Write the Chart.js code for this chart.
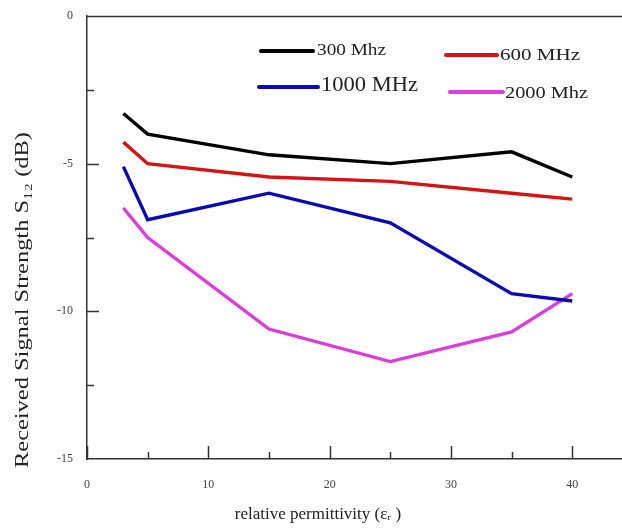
<!DOCTYPE html>
<html>
<head>
<meta charset="utf-8">
<script src="https://cdn.jsdelivr.net/npm/chart.js@4.4.0/dist/chart.umd.min.js"></script>
<style>
  html, body { margin: 0; padding: 0; background: #fff; }
  #wrap { width: 622px; height: 530px; position: relative; }
</style>
</head>
<body>
<div id="wrap"><canvas id="chart"></canvas></div>
<script>
// datos
const permitividad = [3, 5, 15, 25, 35, 40];
const s300 = [-3.3, -4.0, -4.7, -5.0, -4.6, -5.45];
const s600 = [-4.27, -5.0, -5.45, -5.6, -6.0, -6.2];
const s1000 = [-5.1, -6.9, -6.0, -7.0, -9.4, -9.65];
const s2000 = [-6.5, -7.5, -10.6, -11.7, -10.7, -9.4];

const xTicks = [0, 10, 20, 30, 40];
const xMinor = [5, 15, 25, 35];
const yTicks = [-15, -10, -5, 0];
const yMinor = [-12.5, -7.5, -2.5];

const serif = '"Liberation Serif", "Times New Roman", serif';

function serie(label, data, color) {
    return {
        label: label,
        data: permitividad.map((x, i) => ({ x: x, y: data[i] })),
        borderColor: color,
        backgroundColor: color,
        borderWidth: 3.4,
        pointRadius: 0,
        tension: 0,
        fill: false
    };
}

// posiciones y tamanos de la leyenda (dentro del area del grafico)
// w = ancho que ocupa el texto en la imagen original (esta un poco estirado)
const legendPos = [
    { x1: 261, x2: 313, y: 51, tx: 317, ty: 51, size: 16, w: 69 },
    { x1: 446, x2: 497, y: 55, tx: 500, ty: 56, size: 16, w: 80 },
    { x1: 259, x2: 318, y: 87, tx: 321, ty: 86, size: 20, w: 97 },
    { x1: 450, x2: 503, y: 92, tx: 505, ty: 94, size: 17, w: 83 }
];

function stretchedText(ctx, text, x, y, w) {
    const real = ctx.measureText(text).width;
    ctx.save();
    ctx.translate(x, y);
    ctx.scale(w / real, 1);
    ctx.fillText(text, 0, 0);
    ctx.restore();
}

const extras = {
    id: 'extras',
    afterDraw(chart) {
        const ctx = chart.ctx;
        const area = chart.chartArea;
        const xs = chart.scales.x;
        const ys = chart.scales.y;
        ctx.save();
        ctx.strokeStyle = '#333';
        ctx.lineWidth = 1.5;
        // linea superior
        ctx.beginPath();
        ctx.moveTo(area.left, area.top + 0.5);
        ctx.lineTo(area.right, area.top + 0.5);
        ctx.stroke();
        // marcas hacia adentro
        const tickX = (v, len) => {
            const p = Math.round(xs.getPixelForValue(v)) + 0.5;
            ctx.beginPath();
            ctx.moveTo(p, area.bottom);
            ctx.lineTo(p, area.bottom - len);
            ctx.stroke();
        };
        const tickY = (v, len) => {
            const p = Math.round(ys.getPixelForValue(v)) + 0.5;
            ctx.beginPath();
            ctx.moveTo(area.left, p);
            ctx.lineTo(area.left + len, p);
            ctx.stroke();
        };
        xTicks.forEach(v => tickX(v, 13));
        xMinor.forEach(v => tickX(v, 7));
        yTicks.slice(1, -1).forEach(v => tickY(v, 12));
        yMinor.forEach(v => tickY(v, 7));

        // titulos de ejes
        ctx.fillStyle = '#222';
        ctx.font = '17px ' + serif;
        ctx.textAlign = 'center';
        ctx.textBaseline = 'middle';
        ctx.fillText('relative permittivity (\u03B5\u1D63 )', 318, 515);
        ctx.save();
        ctx.translate(23, 300);
        ctx.rotate(-Math.PI / 2);
        ctx.font = '18px ' + serif;
        ctx.textAlign = 'left';
        const yt = 'Received Signal Strength S\u2081\u2082 (dB)';
        stretchedText(ctx, yt, -168, 0, 336);
        ctx.restore();

        // leyenda
        chart.data.datasets.forEach((ds, i) => {
            const p = legendPos[i];
            ctx.strokeStyle = ds.borderColor;
            ctx.lineWidth = 4;
            ctx.lineCap = 'round';
            ctx.beginPath();
            ctx.moveTo(p.x1, p.y);
            ctx.lineTo(p.x2, p.y);
            ctx.stroke();
            ctx.fillStyle = '#222';
            ctx.font = p.size + 'px ' + serif;
            ctx.textAlign = 'left';
            ctx.textBaseline = 'middle';
            stretchedText(ctx, ds.label, p.tx, p.ty, p.w);
        });
        ctx.restore();
    }
};

new Chart(document.getElementById('chart'), {
    type: 'line',
    data: {
        datasets: [
            serie('300 Mhz', s300, '#000000'),
            serie('600 MHz', s600, '#d41414'),
            serie('1000 MHz', s1000, '#0a0ab4'),
            serie('2000 Mhz', s2000, '#dc3cdc')
        ]
    },
    options: {
        responsive: true,
        maintainAspectRatio: false,
        animation: false,
        layout: { padding: { top: 16, right: 0, left: 0, bottom: 0 } },
        plugins: {
            legend: { display: false },
            tooltip: { enabled: false }
        },
        scales: {
            x: {
                type: 'linear',
                min: 0,
                max: 44.1,
                afterBuildTicks: s => { s.ticks = xTicks.map(v => ({ value: v })); },
                afterFit: s => { s.height = 71; s.paddingTop = 0; },
                grid: { display: false, drawTicks: false },
                border: { display: true, color: '#333', width: 1.5 },
                ticks: {
                    padding: 19,
                    color: '#444',
                    font: { family: serif, size: 12 },
                    maxRotation: 0
                }
            },
            y: {
                type: 'linear',
                min: -15,
                max: 0,
                afterBuildTicks: s => { s.ticks = yTicks.map(v => ({ value: v })); },
                afterFit: s => { s.width = 87; s.paddingTop = 0; s.paddingBottom = 0; },
                grid: { display: false, drawTicks: false },
                border: { display: true, color: '#333', width: 1.5 },
                ticks: {
                    padding: 14,
                    color: '#444',
                    font: { family: serif, size: 12 }
                }
            }
        }
    },
    plugins: [extras]
});
</script>
</body>
</html>
